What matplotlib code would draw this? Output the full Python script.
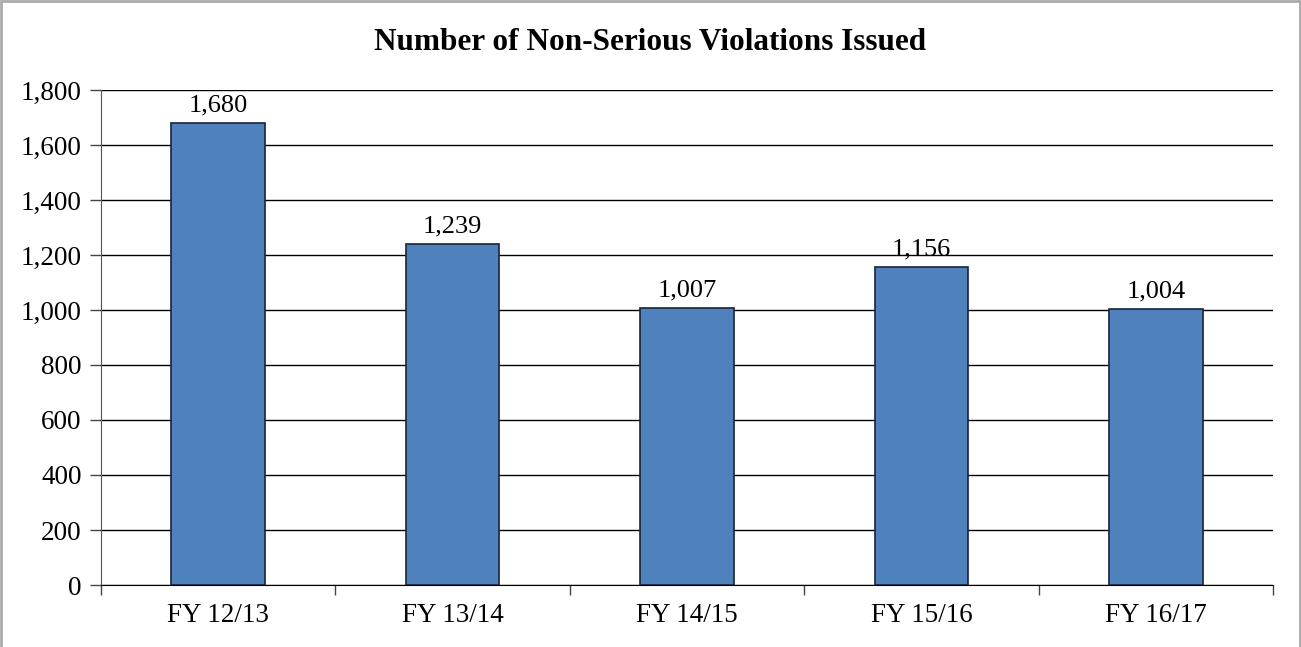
import numpy as np
import matplotlib.pyplot as plt
from matplotlib.patches import Rectangle

# данные
labels = ['FY 12/13', 'FY 13/14', 'FY 14/15', 'FY 15/16', 'FY 16/17']
values = [1680, 1239, 1007, 1156, 1004]

plt.rcParams['font.family'] = ['Liberation Serif', 'DejaVu Serif']

fig = plt.figure(figsize=(13.01, 6.47), dpi=100)
ax = fig.add_axes([0.0776, 0.0958, 0.9009, 0.7652])

x = np.arange(len(labels))
ax.bar(x, values, width=0.40, color='#4F81BD', edgecolor='#17253A', linewidth=1.2, zorder=3)

for xi, v in zip(x, values):
    ax.text(xi, v + 24, f'{v:,}', ha='center', va='bottom', fontsize=19)

ax.set_xlim(-0.5, len(labels) - 0.5)
ax.set_ylim(0, 1800)
ax.set_yticks(np.arange(0, 1801, 200))
ax.set_yticklabels([f'{t:,}' for t in range(0, 1801, 200)], fontsize=19.5)
ax.yaxis.grid(True, color='black', linewidth=1.0, zorder=0)
ax.set_axisbelow(True)

# подписи категорий без засечек, засечки на границах
ax.set_xticks(x)
ax.set_xticklabels(labels, fontsize=19.5)
ax.tick_params(axis='x', which='major', length=0, pad=13)
ax.set_xticks(np.arange(-0.5, len(labels)), minor=True)
ax.tick_params(axis='x', which='minor', length=7, width=1.0, direction='out', color='#444444')
ax.tick_params(axis='y', length=8, width=1.0, color='#444444', pad=6)

for s in ['top', 'right']:
    ax.spines[s].set_visible(False)
ax.spines['left'].set_color('#555555')
ax.spines['bottom'].set_color('black')

fig.text(0.5, 0.935, 'Number of Non-Serious Violations Issued', ha='center', va='center',
         fontsize=22.5, fontweight='bold')

# рамка
fig.patches.append(Rectangle((0.001, -0.01), 0.998, 1.009, transform=fig.transFigure,
                             fill=False, edgecolor='#AAAAAA', linewidth=2))

fig.savefig('out.png', dpi=100)
